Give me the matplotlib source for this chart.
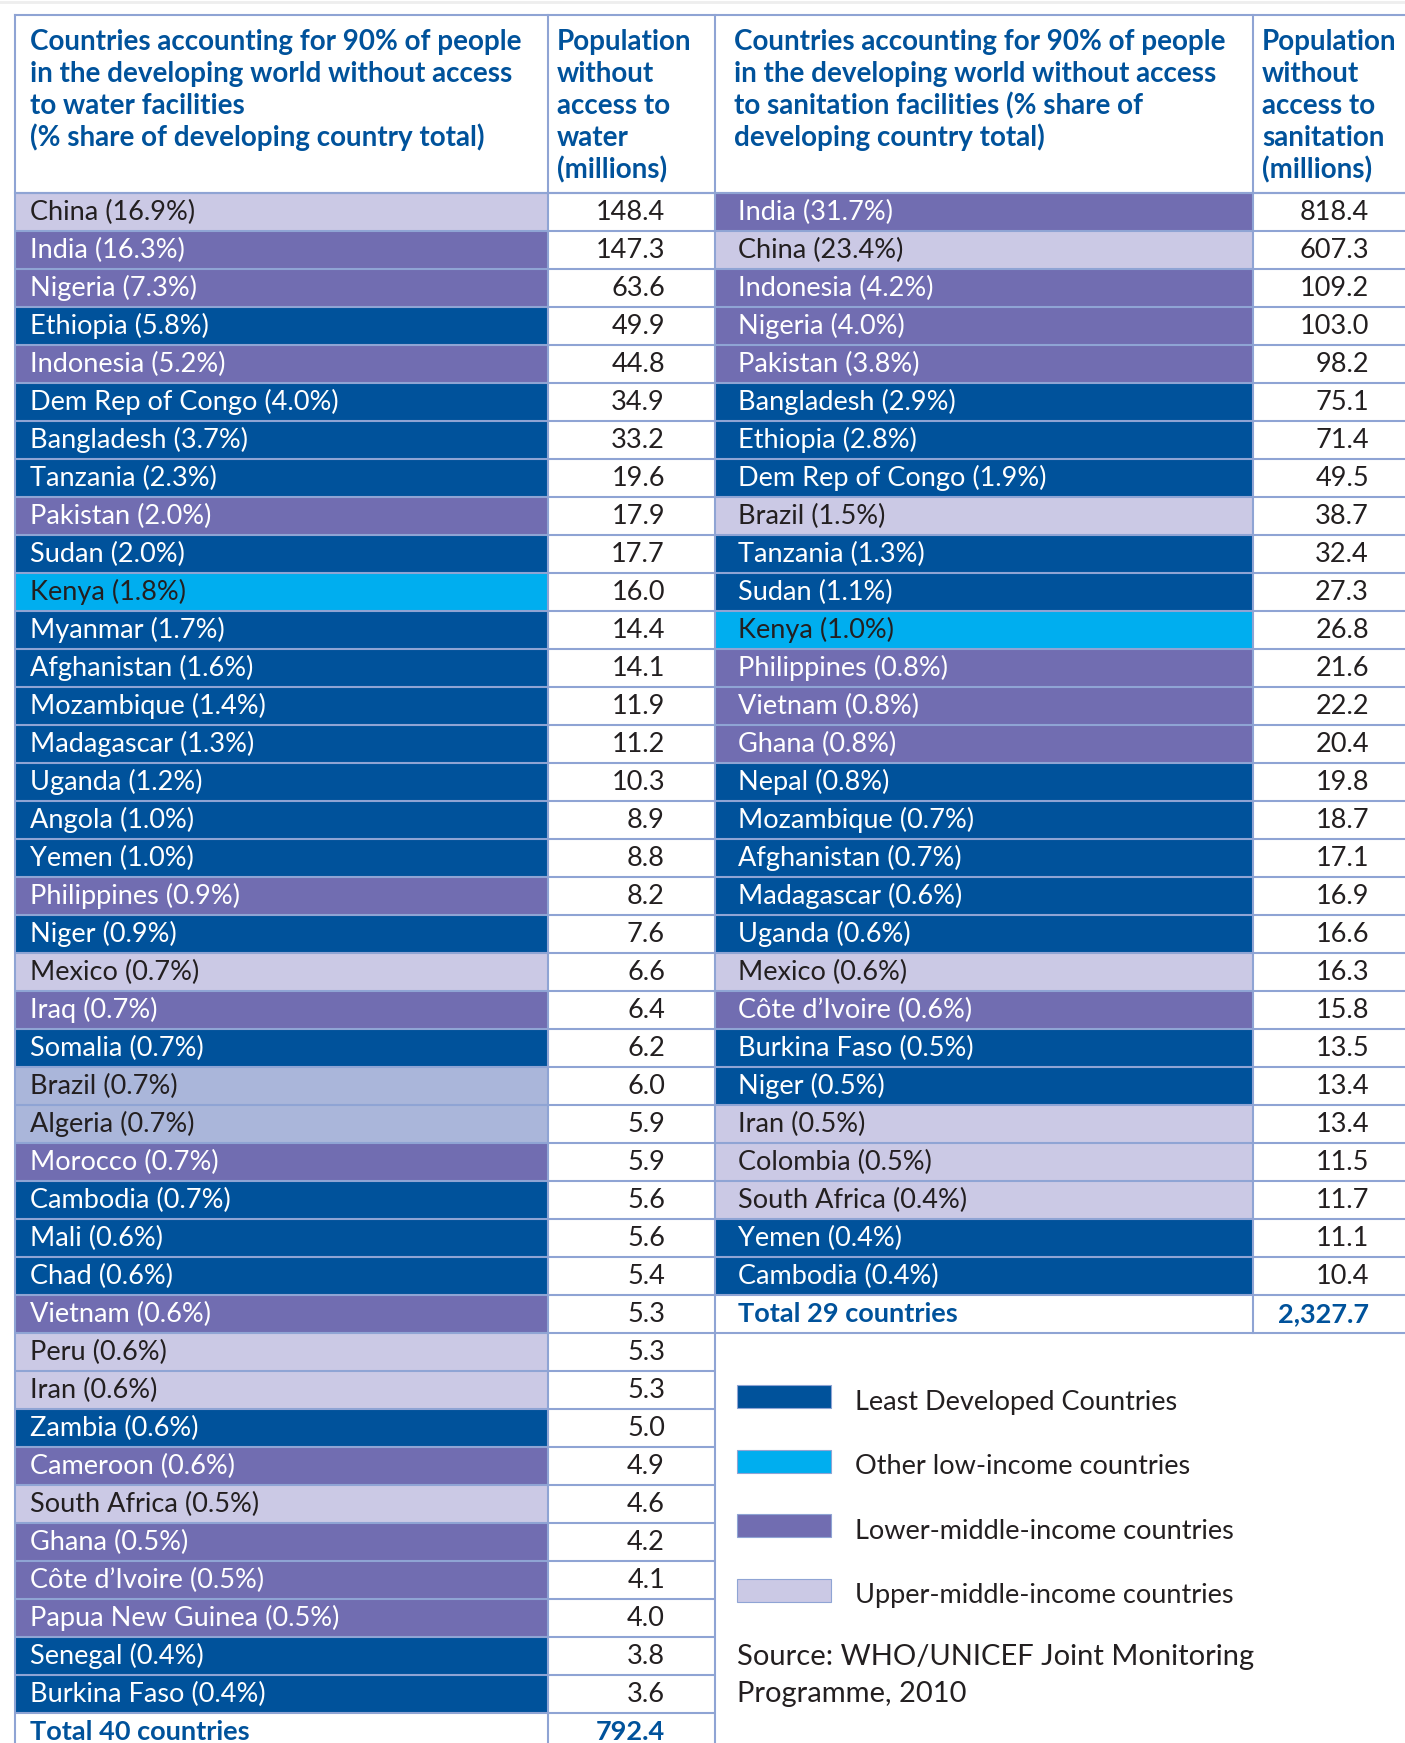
import matplotlib
matplotlib.use("Agg")
from matplotlib import pyplot as plt
from matplotlib.patches import Rectangle

# --- data -------------------------------------------------------------
water_countries = ["China", "India", "Nigeria", "Ethiopia", "Indonesia", "Dem Rep of Congo",
                   "Bangladesh", "Tanzania", "Pakistan", "Sudan", "Kenya", "Myanmar",
                   "Afghanistan", "Mozambique", "Madagascar", "Uganda", "Angola", "Yemen",
                   "Philippines", "Niger", "Mexico", "Iraq", "Somalia", "Brazil", "Algeria",
                   "Morocco", "Cambodia", "Mali", "Chad", "Vietnam", "Peru", "Iran", "Zambia",
                   "Cameroon", "South Africa", "Ghana", "Côte d’Ivoire", "Papua New Guinea",
                   "Senegal", "Burkina Faso"]
water_share = [16.9, 16.3, 7.3, 5.8, 5.2, 4.0, 3.7, 2.3, 2.0, 2.0, 1.8, 1.7, 1.6, 1.4, 1.3,
               1.2, 1.0, 1.0, 0.9, 0.9, 0.7, 0.7, 0.7, 0.7, 0.7, 0.7, 0.7, 0.6, 0.6, 0.6,
               0.6, 0.6, 0.6, 0.6, 0.5, 0.5, 0.5, 0.5, 0.4, 0.4]
water_pop = [148.4, 147.3, 63.6, 49.9, 44.8, 34.9, 33.2, 19.6, 17.9, 17.7, 16.0, 14.4, 14.1,
             11.9, 11.2, 10.3, 8.9, 8.8, 8.2, 7.6, 6.6, 6.4, 6.2, 6.0, 5.9, 5.9, 5.6, 5.6,
             5.4, 5.3, 5.3, 5.3, 5.0, 4.9, 4.6, 4.2, 4.1, 4.0, 3.8, 3.6]
water_group = ["UM", "LM", "LM", "LD", "LM", "LD", "LD", "LD", "LM", "LD", "OL", "LD", "LD",
               "LD", "LD", "LD", "LD", "LD", "LM", "LD", "UM", "LM", "LD", "U2", "U2", "LM",
               "LD", "LD", "LD", "LM", "UM", "UM", "LD", "LM", "UM", "LM", "LM", "LM", "LD", "LD"]
water_total = ("Total 40 countries", "792.4")

sanit_countries = ["India", "China", "Indonesia", "Nigeria", "Pakistan", "Bangladesh",
                   "Ethiopia", "Dem Rep of Congo", "Brazil", "Tanzania", "Sudan", "Kenya",
                   "Philippines", "Vietnam", "Ghana", "Nepal", "Mozambique", "Afghanistan",
                   "Madagascar", "Uganda", "Mexico", "Côte d’Ivoire", "Burkina Faso", "Niger",
                   "Iran", "Colombia", "South Africa", "Yemen", "Cambodia"]
sanit_share = [31.7, 23.4, 4.2, 4.0, 3.8, 2.9, 2.8, 1.9, 1.5, 1.3, 1.1, 1.0, 0.8, 0.8, 0.8,
               0.8, 0.7, 0.7, 0.6, 0.6, 0.6, 0.6, 0.5, 0.5, 0.5, 0.5, 0.4, 0.4, 0.4]
sanit_pop = [818.4, 607.3, 109.2, 103.0, 98.2, 75.1, 71.4, 49.5, 38.7, 32.4, 27.3, 26.8, 21.6,
             22.2, 20.4, 19.8, 18.7, 17.1, 16.9, 16.6, 16.3, 15.8, 13.5, 13.4, 13.4, 11.5,
             11.7, 11.1, 10.4]
sanit_group = ["LM", "UM", "LM", "LM", "LM", "LD", "LD", "LD", "UM", "LD", "LD", "OL", "LM",
               "LM", "LM", "LD", "LD", "LD", "LD", "LD", "UM", "LM", "LD", "LD", "UM", "UM",
               "UM", "LD", "LD"]
sanit_total = ("Total 29 countries", "2,327.7")

water_head = ["Countries accounting for 90% of people",
              "in the developing world without access",
              "to water facilities",
              "(% share of developing country total)"]
water_head2 = ["Population", "without", "access to", "water", "(millions)"]
sanit_head = ["Countries accounting for 90% of people",
              "in the developing world without access",
              "to sanitation facilities (% share of",
              "developing country total)"]
sanit_head2 = ["Population", "without", "access to", "sanitation", "(millions)"]

legend_keys = ["LD", "OL", "LM", "UM"]
legend_labels = ["Least Developed Countries", "Other low-income countries",
                 "Lower-middle-income countries", "Upper-middle-income countries"]
source = ["Source: WHO/UNICEF Joint Monitoring", "Programme, 2010"]

# --- style ------------------------------------------------------------
colors = {"LD": "#00529b", "OL": "#00aeef", "LM": "#716db1", "UM": "#cbc9e5", "U2": "#aab6da"}
light_text = {"LD": True, "LM": True, "OL": False, "UM": False, "U2": False}
blue = "#00529b"
dark = "#231f20"
grid = "#8fa4d4"
font = "Lato"

W, H = 1405, 1743
fig = plt.figure(figsize=(W / 100, H / 100), dpi=100)
ax = fig.add_axes([0, 0, 1, 1])
ax.set_xlim(0, W)
ax.set_ylim(H, 0)
ax.axis("off")

top, head_bot, row_h = 15, 193.4, 38
x_left, x_mid1, x_mid, x_mid2 = 14.5, 548, 715, 1253


def draw_table(countries, share, pop, group, total, head, head2, x0, x1, x2, num_r, pad, hpad):
    for k, line in enumerate(head):
        ax.text(x0 + hpad, 50 + 32 * k, line, color=blue, fontsize=20, fontweight="bold",
                family=font, va="baseline")
    for k, line in enumerate(head2):
        ax.text(x1 + 9, 50 + 32 * k, line, color=blue, fontsize=20, fontweight="bold",
                family=font, va="baseline")
    for i, (c, s, p, g) in enumerate(zip(countries, share, pop, group)):
        y = head_bot + i * row_h
        ax.add_patch(Rectangle((x0, y), x1 - x0, row_h, facecolor=colors[g], edgecolor="none"))
        ax.text(x0 + pad, y + 27, f"{c} ({s:.1f}%)", color="white" if light_text[g] else dark,
                fontsize=19.5, family=font, va="baseline")
        ax.text(num_r, y + 27, f"{p:.1f}", color=dark, fontsize=19.5, family=font,
                va="baseline", ha="right")
    y = head_bot + len(countries) * row_h
    ax.text(x0 + pad, y + 27, total[0], color=blue, fontsize=19.5, fontweight="bold",
            family=font, va="baseline")
    ax.text(num_r, y + 27, total[1], color=blue, fontsize=19.5, fontweight="bold",
            family=font, va="baseline", ha="right")
    # horizontal rules
    for i in range(len(countries) + 2):
        yy = head_bot + i * row_h
        ax.plot([x0, x2], [yy, yy], color=grid, lw=1.5, solid_capstyle="butt")
    return y + row_h


draw_table(water_countries, water_share, water_pop, water_group, water_total,
           water_head, water_head2, x_left, x_mid1, x_mid, 665, 16, 16)
right_bot = draw_table(sanit_countries, sanit_share, sanit_pop, sanit_group, sanit_total,
                       sanit_head, sanit_head2, x_mid, x_mid2, W, 1369, 23, 19)

# outer / column rules
ax.plot([x_left, W], [top, top], color=grid, lw=1.5)
ax.plot([x_left, W], [head_bot, head_bot], color=grid, lw=1.5)
ax.plot([0, W], [2, 2], color="#eeeeee", lw=2)
for xx in (x_left, x_mid1, x_mid):
    ax.plot([xx, xx], [top, H], color=grid, lw=1.5)
ax.plot([x_mid2, x_mid2], [top, right_bot], color=grid, lw=1.5)

# legend
for k, (key, lab) in enumerate(zip(legend_keys, legend_labels)):
    yb = 1410 + 64.5 * k
    ax.add_patch(Rectangle((737, yb - 25), 94, 23, facecolor=colors[key], edgecolor=grid, lw=0.8))
    ax.text(855, yb, lab, color=dark, fontsize=19.5, family=font, va="baseline")
for k, line in enumerate(source):
    ax.text(737, 1665 + 37 * k, line, color=dark, fontsize=21, family=font, va="baseline")

fig.savefig("out.png", dpi=100)
